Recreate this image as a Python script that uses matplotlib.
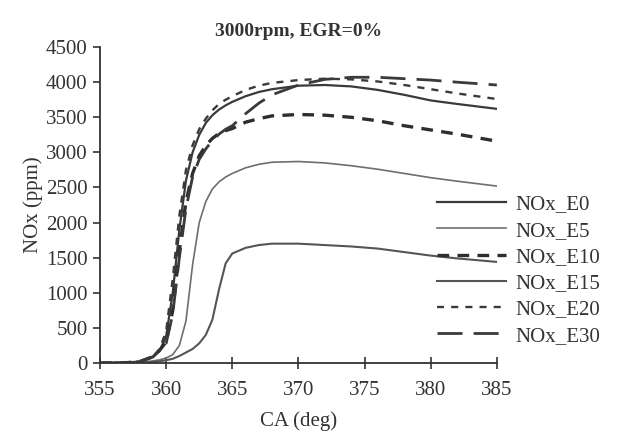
import matplotlib
matplotlib.use('Agg')
import matplotlib.pyplot as plt

plt.rcParams['font.family'] = ['Liberation Serif', 'DejaVu Serif']

ca = [355, 357, 358, 359, 359.5, 360, 360.5, 361, 361.5, 362, 362.5, 363, 363.5, 364,
      364.5, 365, 366, 367, 368, 370, 372, 374, 376, 378, 380, 382, 385]

nox_e0 = [0, 5, 20, 80, 170, 380, 1000, 1900, 2600, 3000, 3250, 3420, 3530, 3610,
          3670, 3720, 3800, 3860, 3900, 3950, 3960, 3940, 3890, 3820, 3740, 3690, 3620]
nox_e5 = [0, 3, 10, 30, 45, 70, 120, 250, 600, 1400, 2000, 2300, 2480, 2580,
          2650, 2700, 2780, 2830, 2860, 2870, 2850, 2810, 2760, 2700, 2640, 2590, 2520]
nox_e10 = [0, 5, 20, 90, 180, 300, 750, 1600, 2300, 2700, 2950, 3100, 3200, 3270,
           3310, 3340, 3430, 3480, 3520, 3540, 3530, 3500, 3450, 3380, 3320, 3260, 3160]
nox_e15 = [0, 2, 5, 15, 25, 40, 60, 100, 150, 200, 280, 400, 620, 1050,
           1420, 1560, 1640, 1680, 1700, 1700, 1680, 1660, 1630, 1580, 1530, 1490, 1440]
nox_e20 = [0, 5, 20, 90, 200, 450, 1200, 2100, 2750, 3100, 3330, 3480, 3600, 3690,
           3750, 3800, 3890, 3950, 3990, 4030, 4050, 4040, 4010, 3960, 3900, 3840, 3760]
nox_e30 = [0, 5, 20, 90, 180, 280, 700, 1500, 2200, 2650, 2900, 3050, 3170, 3260,
           3330, 3380, 3550, 3700, 3820, 3960, 4040, 4070, 4070, 4050, 4030, 4000, 3960]

labels = ['NOx_E0', 'NOx_E5', 'NOx_E10', 'NOx_E15', 'NOx_E20', 'NOx_E30']
series = [nox_e0, nox_e5, nox_e10, nox_e15, nox_e20, nox_e30]

styles = [
    dict(color='#3a3a3a', lw=1.6, ls='-'),
    dict(color='#6e6e6e', lw=1.2, ls='-'),
    dict(color='#2e2e2e', lw=2.4, ls=(0, (3.5, 2.5))),
    dict(color='#555555', lw=1.5, ls='-'),
    dict(color='#3a3a3a', lw=1.7, ls=(0, (3, 3))),
    dict(color='#3a3a3a', lw=2.0, ls=(0, (9, 4))),
]

fig = plt.figure(figsize=(6.23, 4.36), dpi=100)
ax = fig.add_axes([0.1605, 0.1674, 0.637, 0.7246])

for y, lab, st in zip(series, labels, styles):
    ax.plot(ca, y, label=lab, **st)

ax.set_xlim(355, 385)
ax.set_ylim(0, 4500)
ax.set_xticks(range(355, 386, 5))
ax.set_yticks(range(0, 4501, 500))
ax.spines['top'].set_visible(False)
ax.spines['right'].set_visible(False)
for side in ['left', 'bottom']:
    ax.spines[side].set_linewidth(1.3)
    ax.spines[side].set_color('#333333')
ax.tick_params(axis='y', direction='out', length=5, width=1.2, labelsize=15, pad=4,
               colors='#333333')
ax.tick_params(axis='x', direction='inout', length=8, width=1.2, labelsize=15, pad=9,
               colors='#333333')

ax.set_xlabel('CA (deg)', fontsize=15, color='#333333', labelpad=8)
ax.set_ylabel('NOx (ppm)', fontsize=15, color='#333333', labelpad=2)
ax.set_title('3000rpm, EGR=0%', fontsize=14, fontweight='bold', color='#333333', pad=8)

fig.legend(loc='center left', bbox_to_anchor=(0.7015, 0.38), frameon=False, fontsize=15,
           handlelength=3.3, handletextpad=0.45, labelspacing=0.32, borderpad=0,
           borderaxespad=0, labelcolor='#333333')

fig.savefig('out.png', dpi=100)
